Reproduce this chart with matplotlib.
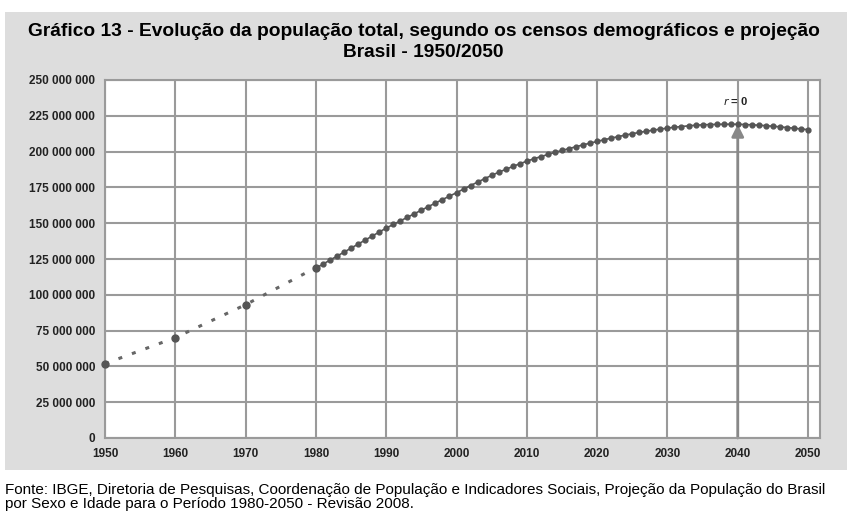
import numpy as np
import matplotlib.pyplot as plt
from matplotlib.ticker import FuncFormatter

plt.rcParams['font.family'] = ['Liberation Sans', 'DejaVu Sans']

# censos demograficos (pontos isolados, linha pontilhada)
census_years = [1950, 1960, 1970, 1980]
census_pop = [51.9, 70.1, 93.1, 119.0]  # milhoes

# projecao anual 1980-2050 (milhoes)
proj_years = list(range(1980, 2051))
proj_pop = [118.6, 121.4, 124.2, 127.0, 129.8, 132.6, 135.4, 138.2, 141.0, 143.8,
            146.6, 149.1, 151.6, 154.1, 156.6, 159.1, 161.6, 164.1, 166.5, 168.9,
            171.3, 173.8, 176.3, 178.7, 181.1, 183.4, 185.6, 187.6, 189.6, 191.5,
            193.3, 195.0, 196.5, 198.0, 199.5, 200.8, 202.1, 203.4, 204.7, 205.9,
            207.1, 208.3, 209.4, 210.5, 211.5, 212.5, 213.4, 214.2, 215.0, 215.7,
            216.4, 217.0, 217.5, 218.0, 218.4, 218.7, 218.9, 219.0, 219.1, 219.1,
            219.1, 218.9, 218.7, 218.4, 218.1, 217.7, 217.3, 216.8, 216.3, 215.8,
            215.3]

peak_year = 2040
peak_pop = 219.1

xticks = list(range(1950, 2051, 10))
yticks = list(range(0, 250000001, 25000000))

fig = plt.figure(figsize=(8.47, 5.13), dpi=100)
fig.patch.set_facecolor('white')

# painel cinza de fundo
bg = fig.add_axes([0.006, 1 - 470 / 513, 0.994, (470 - 12) / 513], zorder=-1)
bg.set_facecolor('#dddddd')
bg.set_xticks([])
bg.set_yticks([])
for s in bg.spines.values():
    s.set_visible(False)

ax = fig.add_axes([105 / 847, 1 - 438 / 513, (820 - 105) / 847, (438 - 80) / 513])
ax.set_facecolor('white')

dot = '#555555'
ax.plot(census_years, np.array(census_pop) * 1e6, linestyle=(0, (1.3, 3.4)), color='#666666',
        linewidth=2.2, zorder=3, clip_on=False)
ax.plot(census_years, np.array(census_pop) * 1e6, linestyle='none', color=dot,
        marker='o', markersize=5, zorder=4, clip_on=False)
ax.plot(proj_years, np.array(proj_pop) * 1e6, color=dot, linewidth=1.2,
        marker='o', markersize=3.5, zorder=3, clip_on=False)

ax.annotate('', xy=(peak_year, peak_pop * 1e6), xytext=(peak_year, 0),
            arrowprops=dict(arrowstyle='-|>', color='#888888', lw=2,
                            mutation_scale=18, shrinkA=0, shrinkB=0), zorder=2)
ax.text(peak_year - 0.3, 231e6, r'$r$ = 0', ha='center', va='bottom', fontsize=8,
        fontweight='bold', color='#222222')

ax.set_xlim(1950, 2051.7)
ax.set_ylim(0, 250e6)
ax.set_xticks(xticks)
ax.set_yticks(yticks)
ax.yaxis.set_major_formatter(FuncFormatter(lambda v, p: f'{int(v):,}'.replace(',', ' ')))
ax.grid(True, color='#9a9a9a', linewidth=1.5)
ax.set_axisbelow(True)
for s in ax.spines.values():
    s.set_color('#9a9a9a')
    s.set_linewidth(1.5)
ax.tick_params(length=0, labelsize=8.5, pad=7, colors='#222222')
for lbl in ax.get_xticklabels() + ax.get_yticklabels():
    lbl.set_fontweight('bold')

fig.text(0.5, 1 - 42 / 513,
         'Gráfico 13 - Evolução da população total, segundo os censos demográficos e projeção\nBrasil - 1950/2050',
         ha='center', va='center', fontsize=13.8, fontweight='bold', linespacing=1.3)

fig.text(5 / 847, 1 - 497 / 513,
         'Fonte: IBGE, Diretoria de Pesquisas, Coordenação de População e Indicadores Sociais, Projeção da População do Brasil\n'
         'por Sexo e Idade para o Período 1980-2050 - Revisão 2008.',
         ha='left', va='center', fontsize=11, linespacing=1.05)

fig.savefig('out.png', dpi=100)
